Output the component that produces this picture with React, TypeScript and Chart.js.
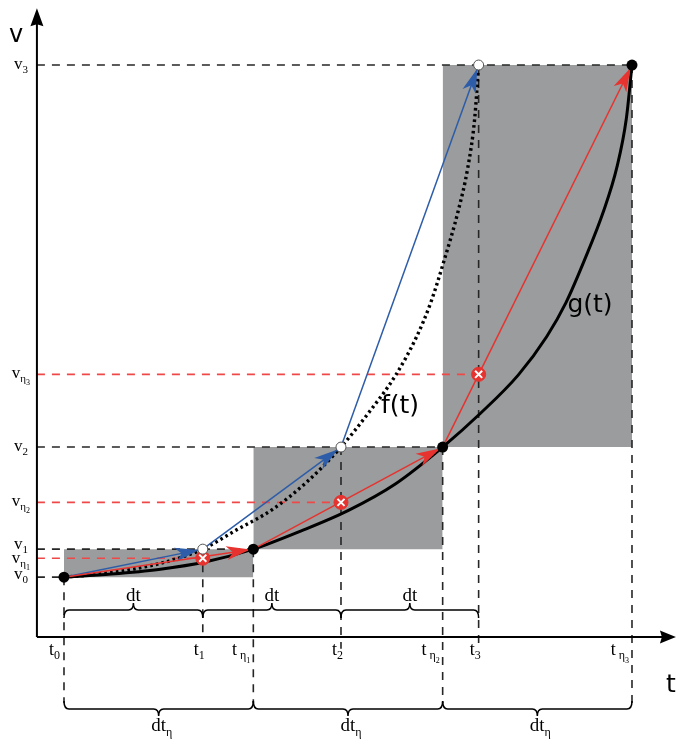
import React, { useEffect, useRef } from "react";
import { Chart, registerables } from "chart.js";

Chart.register(...registerables);

// ---- data ----
// time marks: t0..t3 (steps of dt) and t0, tη1..tη3 (steps of dtη)
const tStep = [0, 0.733, 1.463, 2.19];
const tEta = [0, 1, 2, 3];
// values v0..v3 and vη1..vη3
const vStep = [0, 0.547, 2.54, 10];
const vEta = [0.37, 1.46, 3.96];
// g(t): solid black curve
const gT = [0, 0.25, 0.5, 0.75, 1.0, 1.25, 1.5, 1.75, 2.0, 2.2, 2.4, 2.55, 2.65, 2.75, 2.85, 2.92, 2.97, 3.0];
const gV = [0, 0.06, 0.15, 0.3, 0.547, 0.9, 1.3, 1.82, 2.54, 3.2, 3.95, 4.7, 5.35, 6.2, 7.15, 8.0, 8.95, 10];
// f(t): dotted black curve
const fT = [0, 0.18, 0.37, 0.55, 0.733, 0.91, 1.1, 1.28, 1.463, 1.607, 1.753, 1.863, 1.936, 2.009, 2.082, 2.133, 2.169, 2.19];
const fV = [0, 0.06, 0.16, 0.31, 0.547, 0.92, 1.32, 1.85, 2.54, 3.2, 3.95, 4.7, 5.35, 6.2, 7.15, 8.0, 8.95, 10];
// tick label subscripts
const stepSubs = ["0", "1", "2", "3"];
const etaSubs = ["1", "2", "3"];
// axes extents (origin and arrow tips)
const axisT = [-0.143, 3.232];
const axisV = [-1.17, 11.11];
const lowV = -2.46; // long drop lines reach the lower braces
const midV = -1.4; // t2, t3 drop lines end just under the axis

// ---- styles ----
const GRAY = "#9a9c9d";
const BLUE = "#2d5ca8";
const RED = "#e6332f";
const RED_DASH = "#ee4848";
const DASH = "#262626";
const SERIF = '"Liberation Serif", "DejaVu Serif", serif';
const SANS = '"DejaVu Sans", sans-serif';

const xy = (xs: number[], ys: number[]) => xs.map((x, i) => ({ x, y: ys[i] }));

function dashLine(data: any[], color: string) {
  return {
    data,
    borderColor: color,
    borderWidth: 1.6,
    borderDash: [8, 7],
    pointRadius: 0,
    fill: false,
    tension: 0,
    order: 20,
  };
}

function buildDatasets() {
  const ds: any[] = [];
  for (let i = 0; i < 3; i++) {
    ds.push({
      data: [
        { x: tEta[i], y: vStep[i + 1] },
        { x: tEta[i + 1], y: vStep[i + 1] },
      ],
      borderWidth: 0,
      borderColor: "rgba(0,0,0,0)",
      backgroundColor: GRAY,
      fill: { value: vStep[i] },
      pointRadius: 0,
      order: 30,
    });
  }
  for (let i = 0; i < 4; i++)
    ds.push(dashLine([{ x: axisT[0], y: vStep[i] }, { x: tEta[i], y: vStep[i] }], DASH));
  for (let i = 0; i < 3; i++)
    ds.push(dashLine([{ x: axisT[0], y: vEta[i] }, { x: tStep[i + 1], y: vEta[i] }], RED_DASH));
  for (let i = 0; i < 4; i++)
    ds.push(dashLine([{ x: tEta[i], y: vStep[i] }, { x: tEta[i], y: lowV }], DASH));
  for (let i = 1; i < 4; i++)
    ds.push(dashLine([{ x: tStep[i], y: vStep[i] }, { x: tStep[i], y: i === 1 ? axisV[0] : midV }], DASH));

  // g(t)
  ds.push({
    data: xy(gT, gV),
    borderColor: "#000",
    borderWidth: 3,
    cubicInterpolationMode: "monotone",
    pointRadius: 0,
    fill: false,
    order: 10,
  });
  // f(t)
  ds.push({
    data: xy(fT, fV),
    borderColor: "#000",
    borderWidth: 3.4,
    borderDash: [2.6, 3.2],
    cubicInterpolationMode: "monotone",
    pointRadius: 0,
    fill: false,
    order: 10,
  });
  // chords with arrows
  for (let i = 0; i < 3; i++) {
    ds.push({
      data: [
        { x: tEta[i], y: vStep[i] },
        { x: tEta[i + 1], y: vStep[i + 1] },
      ],
      borderColor: RED,
      borderWidth: 1.5,
      pointRadius: 0,
      fill: false,
      order: 6,
      arrowColor: RED,
      arrowBack: 3,
    });
    ds.push({
      data: [
        { x: tStep[i], y: vStep[i] },
        { x: tStep[i + 1], y: vStep[i + 1] },
      ],
      borderColor: BLUE,
      borderWidth: 1.5,
      pointRadius: 0,
      fill: false,
      order: 6,
      arrowColor: BLUE,
      arrowBack: 4,
    });
  }
  // markers
  ds.push({
    data: xy(tEta, vStep),
    showLine: false,
    pointRadius: 5.5,
    pointBackgroundColor: "#000",
    pointBorderColor: "#000",
    pointBorderWidth: 0,
    order: 2,
  });
  ds.push({
    data: xy(tStep.slice(1), vStep.slice(1)),
    showLine: false,
    pointRadius: 5,
    pointBackgroundColor: "#fff",
    pointBorderColor: "#555",
    pointBorderWidth: 1,
    order: 2,
  });
  ds.push({
    data: xy(tStep.slice(1), vEta),
    showLine: false,
    pointRadius: 7,
    pointBackgroundColor: RED,
    pointBorderColor: RED,
    pointBorderWidth: 1,
    order: 2,
  });
  ds.push({
    data: xy(tStep.slice(1), vEta),
    showLine: false,
    pointStyle: "crossRot",
    pointRadius: 5,
    pointBorderColor: "#fff",
    pointBorderWidth: 2,
    order: 1,
  });
  return ds;
}

type Part = { text: string; size: number; dy: number; gap?: number };

function drawParts(ctx: CanvasRenderingContext2D, parts: Part[], x: number, y: number, align: string, family: string) {
  let w = 0;
  for (const p of parts) {
    ctx.font = `${p.size}px ${family}`;
    w += ctx.measureText(p.text).width + (p.gap || 0);
  }
  let cx = align === "right" ? x - w : align === "center" ? x - w / 2 : x;
  ctx.textAlign = "left";
  ctx.textBaseline = "alphabetic";
  for (const p of parts) {
    ctx.font = `${p.size}px ${family}`;
    cx += p.gap || 0;
    ctx.fillText(p.text, cx, y + p.dy);
    cx += ctx.measureText(p.text).width;
  }
}

function arrowHead(ctx: CanvasRenderingContext2D, x0: number, y0: number, x1: number, y1: number, color: string, back: number, L: number, W: number, notch: number) {
  const dx = x1 - x0, dy = y1 - y0;
  const len = Math.hypot(dx, dy) || 1;
  const ux = dx / len, uy = dy / len;
  const nx = -uy, ny = ux;
  const tx = x1 - back * ux, ty = y1 - back * uy;
  const bx = tx - L * ux, by = ty - L * uy;
  ctx.save();
  ctx.fillStyle = color;
  ctx.beginPath();
  ctx.moveTo(tx, ty);
  ctx.lineTo(bx + W * nx, by + W * ny);
  ctx.lineTo(tx - (L - notch) * ux, ty - (L - notch) * uy);
  ctx.lineTo(bx - W * nx, by - W * ny);
  ctx.closePath();
  ctx.fill();
  ctx.restore();
}

function brace(ctx: CanvasRenderingContext2D, x0: number, x1: number, y: number, dir: number) {
  const e = 8, r = 5, m = 7;
  const xm = (x0 + x1) / 2;
  ctx.beginPath();
  ctx.moveTo(x0, y - dir * e);
  ctx.quadraticCurveTo(x0, y, x0 + r, y);
  ctx.lineTo(xm - r, y);
  ctx.quadraticCurveTo(xm, y, xm, y + dir * m);
  ctx.quadraticCurveTo(xm, y, xm + r, y);
  ctx.lineTo(x1 - r, y);
  ctx.quadraticCurveTo(x1, y, x1, y - dir * e);
  ctx.stroke();
}

const diagramPlugin = {
  id: "diagram",
  afterDatasetDraw(chart: any, args: any) {
    const ds = chart.data.datasets[args.index];
    if (!ds.arrowColor) return;
    const pts = args.meta.data;
    const a = pts[pts.length - 2], b = pts[pts.length - 1];
    arrowHead(chart.ctx, a.x, a.y, b.x, b.y, ds.arrowColor, ds.arrowBack || 0, 24, 7, 6.5);
  },
  afterDatasetsDraw(chart: any) {
    const ctx: CanvasRenderingContext2D = chart.ctx;
    const X = (v: number) => chart.scales.x.getPixelForValue(v);
    const Y = (v: number) => chart.scales.y.getPixelForValue(v);
    const ox = X(axisT[0]), oy = Y(axisV[0]);
    const xt = X(axisT[1]), yt = Y(axisV[1]);
    ctx.save();
    // axes
    ctx.strokeStyle = "#000";
    ctx.lineWidth = 2;
    ctx.beginPath();
    ctx.moveTo(ox, oy);
    ctx.lineTo(xt - 8, oy);
    ctx.moveTo(ox, oy);
    ctx.lineTo(ox, yt + 8);
    ctx.stroke();
    arrowHead(ctx, ox, oy, xt, oy, "#000", 0, 16, 6.5, 2);
    arrowHead(ctx, ox, oy, ox, yt, "#000", 0, 18, 6.5, 2);

    // braces
    ctx.lineWidth = 1.5;
    ctx.strokeStyle = "#000";
    const topY = oy - 27, botY = oy + 72;
    for (let i = 0; i < 3; i++) brace(ctx, X(tStep[i]), X(tStep[i + 1]), topY, -1);
    for (let i = 0; i < 3; i++) brace(ctx, X(tEta[i]), X(tEta[i + 1]), botY, 1);

    ctx.fillStyle = "#000";
    // dt labels
    for (let i = 0; i < 3; i++) {
      drawParts(ctx, [{ text: "dt", size: 19, dy: 0 }], (X(tStep[i]) + X(tStep[i + 1])) / 2, topY - 9, "center", SERIF);
      drawParts(
        ctx,
        [
          { text: "dt", size: 19, dy: 0 },
          { text: "η", size: 12, dy: 5 },
        ],
        (X(tEta[i]) + X(tEta[i + 1])) / 2 + 3,
        botY + 22,
        "center",
        SERIF
      );
    }

    // v labels
    const vx = 30;
    const vNudge = [-2, -4, 0, 0];
    const vEtaNudge = [1, 0, 0];
    for (let i = 0; i < 4; i++) {
      drawParts(
        ctx,
        [
          { text: "v", size: 17, dy: 0 },
          { text: stepSubs[i], size: 11, dy: 4 },
        ],
        vx - 2,
        Y(vStep[i]) + 4 + vNudge[i],
        "right",
        SERIF
      );
    }
    for (let i = 0; i < 3; i++) {
      drawParts(
        ctx,
        [
          { text: "v", size: 17, dy: 0 },
          { text: "η", size: 11, dy: 4 },
          { text: etaSubs[i], size: 8, dy: 7 },
        ],
        vx,
        Y(vEta[i]) + 4 + vEtaNudge[i],
        "right",
        SERIF
      );
    }

    // t labels
    const ty = oy + 18;
    for (let i = 0; i < 4; i++) {
      drawParts(
        ctx,
        [
          { text: "t", size: 18, dy: 0 },
          { text: stepSubs[i], size: 12, dy: 4 },
        ],
        X(tStep[i]) + (i === 0 ? -4 : 2),
        ty,
        "right",
        SERIF
      );
    }
    for (let i = 0; i < 3; i++) {
      drawParts(
        ctx,
        [
          { text: "t", size: 18, dy: 0 },
          { text: "η", size: 12, dy: 4, gap: 3 },
          { text: etaSubs[i], size: 8, dy: 8 },
        ],
        X(tEta[i + 1]) - 3,
        ty,
        "right",
        SERIF
      );
    }

    // axis names and curve names
    drawParts(ctx, [{ text: "v", size: 24, dy: 0 }], 16, 42, "center", SANS);
    drawParts(ctx, [{ text: "t", size: 25, dy: 0 }], 671, 692, "center", SANS);
    drawParts(ctx, [{ text: "f(t)", size: 25, dy: 0 }], 400, 413, "center", SANS);
    drawParts(ctx, [{ text: "g(t)", size: 25, dy: 0 }], 590, 312, "center", SANS);
    ctx.restore();
  },
};

export default function App() {
  const ref = useRef<HTMLCanvasElement | null>(null);
  useEffect(() => {
    if (!ref.current) return;
    const chart = new Chart(ref.current, {
      type: "line",
      data: { datasets: buildDatasets() },
      options: {
        animation: false,
        responsive: false,
        events: [],
        layout: { padding: 0, autoPadding: false },
        elements: { point: { radius: 0 }, line: { tension: 0 } },
        plugins: { legend: { display: false }, tooltip: { enabled: false } },
        scales: {
          x: { type: "linear", min: -0.338, max: 3.243, display: false },
          y: { type: "linear", min: -3.18, max: 11.27, display: false },
        },
      } as any,
      plugins: [diagramPlugin as any],
    });
    return () => chart.destroy();
  }, []);
  return (
    <div style={{ position: "absolute", left: 0, top: 0, width: 678, height: 740, background: "#fff" }}>
      <canvas ref={ref} width={678} height={740} />
    </div>
  );
}
